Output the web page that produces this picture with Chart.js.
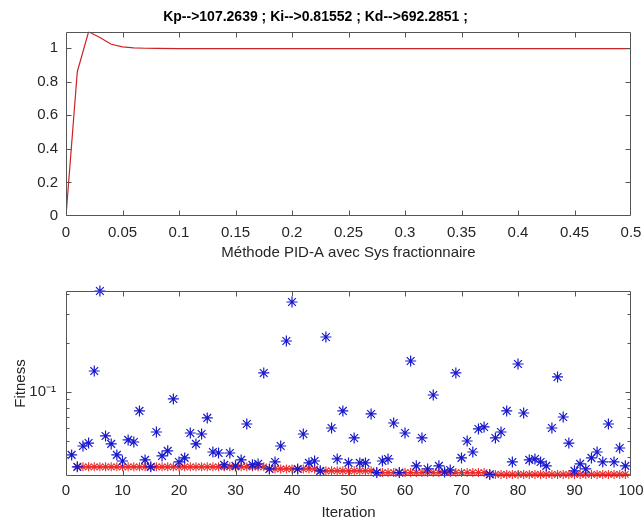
<!DOCTYPE html>
<html><head><meta charset="utf-8">
<script src="https://cdn.jsdelivr.net/npm/chart.js@4.4.0/dist/chart.umd.min.js"></script>
<style>
html,body{margin:0;padding:0;background:#fff;}
#wrap{position:relative;width:643px;height:521px;overflow:hidden;background:#fff;}
canvas{position:absolute;left:0;}
#c1{top:0;} #c2{top:265px;}
</style></head><body>
<div id="wrap"><canvas id="c1" width="643" height="265"></canvas><canvas id="c2" width="643" height="256"></canvas></div>
<script>
// ---------- data: top plot (step response) ----------
const plotTitle = 'Kp-->107.2639 ; Ki-->0.81552 ; Kd-->692.2851 ;';
const topXLabel = 'Méthode PID-A avec Sys fractionnaire';
const stepTime = [0, 0.01, 0.02, 0.03, 0.04, 0.05, 0.06, 0.07, 0.08, 0.1, 0.15, 0.2, 0.25, 0.3, 0.35, 0.4, 0.45, 0.5];
const stepResponse = [0, 0.86, 1.098, 1.064, 1.024, 1.008, 1.002, 1.0, 0.999, 0.998, 0.998, 0.998, 0.998, 0.998, 0.998, 0.998, 0.998, 0.998];
const topXTicks = [0, 0.05, 0.1, 0.15, 0.2, 0.25, 0.3, 0.35, 0.4, 0.45, 0.5];
const topXTickLabels = ['0', '0.05', '0.1', '0.15', '0.2', '0.25', '0.3', '0.35', '0.4', '0.45', '0.5'];
const topYTicks = [0, 0.2, 0.4, 0.6, 0.8, 1];
const topYTickLabels = ['0', '0.2', '0.4', '0.6', '0.8', '1'];

// ---------- data: bottom plot (fitness per iteration) ----------
const bottomXLabel = 'Iteration';
const bottomYLabel = 'Fitness';
const iterations = [1,2,3,4,5,6,7,8,9,10,11,12,13,14,15,16,17,18,19,20,21,22,23,24,25,26,27,28,29,30,31,32,33,34,35,36,37,38,39,40,41,42,43,44,45,46,47,48,49,50,51,52,53,54,55,56,57,58,59,60,61,62,63,64,65,66,67,68,69,70,71,72,73,74,75,76,77,78,79,80,81,82,83,84,85,86,87,88,89,90,91,92,93,94,95,96,97,98,99];
const fitnessCurrent = [
  0.0411, 0.0347, 0.0466, 0.0486, 0.1345, 0.4165, 0.0537, 0.0480, 0.0411, 0.0377,
  0.0508, 0.0493, 0.0765, 0.0383, 0.0347, 0.0568, 0.0405, 0.0435, 0.0906, 0.0372,
  0.0394, 0.0560, 0.0480, 0.0552, 0.0693, 0.0428, 0.0422, 0.0357, 0.0422, 0.0352,
  0.0383, 0.0636, 0.0357, 0.0362, 0.1308, 0.0337, 0.0372, 0.0466, 0.2055, 0.3565,
  0.0337, 0.0552, 0.0367, 0.0377, 0.0328, 0.2175, 0.0601, 0.0388, 0.0765, 0.0367,
  0.0522, 0.0367, 0.0367, 0.0733, 0.0320, 0.0377, 0.0388, 0.0645, 0.0320, 0.0560,
  0.1549, 0.0352, 0.0522, 0.0337, 0.0958, 0.0352, 0.0323, 0.0332, 0.1308, 0.0394,
  0.0500, 0.0428, 0.0593, 0.0610, 0.0312, 0.0522, 0.0568, 0.0765, 0.0372, 0.1485,
  0.0743, 0.0383, 0.0388, 0.0372, 0.0352, 0.0601, 0.1236, 0.0702, 0.0486, 0.0328,
  0.0362, 0.0337, 0.0394, 0.0428, 0.0372, 0.0636, 0.0372, 0.0453, 0.0352];
const bestIterations = [2,3,4,5,6,7,8,9,10,11,12,13,14,15,16,17,18,19,20,21,22,23,24,25,26,27,28,29,30,31,32,33,34,35,36,37,38,39,40,41,42,43,44,45,46,47,48,49,50,51,52,53,54,55,56,57,58,59,60,61,62,63,64,65,66,67,68,69,70,71,72,73,74,75,76,77,78,79,80,81,82,83,84,85,86,87,88,89,90,91,92,93,94,95,96,97,98,99];
const fitnessBest = [
  0.0347, 0.0347, 0.0347, 0.0347, 0.0347, 0.0347, 0.0347, 0.0347, 0.0347, 0.0347,
  0.0347, 0.0347, 0.0347, 0.0347, 0.0347, 0.0347, 0.0347, 0.0347, 0.0347, 0.0347,
  0.0347, 0.0347, 0.0347, 0.0347, 0.0347, 0.0347, 0.0347, 0.0347, 0.0347, 0.0347,
  0.0347, 0.0347, 0.0347, 0.0347,
  0.0337, 0.0337, 0.0337, 0.0337, 0.0337, 0.0337, 0.0337, 0.0337, 0.0337,
  0.0328, 0.0328, 0.0328, 0.0328, 0.0328, 0.0328, 0.0328, 0.0328, 0.0328, 0.0328,
  0.0320, 0.0320, 0.0320, 0.0320, 0.0320, 0.0320, 0.0320, 0.0320, 0.0320, 0.0320,
  0.0320, 0.0320, 0.0320, 0.0320, 0.0320, 0.0320, 0.0320, 0.0320, 0.0320, 0.0320,
  0.0312, 0.0312, 0.0312, 0.0312, 0.0312, 0.0312, 0.0312, 0.0312, 0.0312, 0.0312,
  0.0312, 0.0312, 0.0312, 0.0312, 0.0312, 0.0312, 0.0312, 0.0312, 0.0312, 0.0312,
  0.0312, 0.0312, 0.0312, 0.0312, 0.0312];
const bottomXTicks = [0, 10, 20, 30, 40, 50, 60, 70, 80, 90, 100];
const bottomXTickLabels = ['0', '10', '20', '30', '40', '50', '60', '70', '80', '90', '100'];
const bottomYTicks = [0.1];
const bottomYTickLabels = ['10\u207B\u00B9'];
const bottomYMinorTicks = [0.04, 0.05, 0.06, 0.07, 0.08, 0.09, 0.2, 0.3, 0.4];
const bottomYRange = [0.0305, 0.4165];

// ---------- drawing ----------
const FONT = "'Liberation Sans', Arial, Helvetica, sans-serif";
const TXT = '#262626';

const matlabAxes = {
  id: 'matlabAxes',
  afterDraw(chart, args, opts) {
    const {ctx, chartArea: a, scales} = chart;
    const sx = scales.x, sy = scales.y;
    const L = Math.round(a.left) + 0.5, R = Math.round(a.right) - 0.5;
    const T = Math.round(a.top) + 0.5, B = Math.round(a.bottom) - 0.5;
    ctx.save();
    ctx.strokeStyle = '#555555';
    ctx.lineWidth = 1;
    ctx.beginPath();
    ctx.rect(L, T, R - L, B - T);
    const xt = (vals, len) => vals.forEach(v => {
      const p = Math.round(sx.getPixelForValue(v)) + 0.5;
      ctx.moveTo(p, B); ctx.lineTo(p, B - len);
      ctx.moveTo(p, T); ctx.lineTo(p, T + len);
    });
    const yt = (vals, len) => vals.forEach(v => {
      const p = Math.round(sy.getPixelForValue(v)) + 0.5;
      ctx.moveTo(L, p); ctx.lineTo(L + len, p);
      ctx.moveTo(R, p); ctx.lineTo(R - len, p);
    });
    xt(opts.xTicks || [], 5);
    yt(opts.yTicks || [], 5);
    yt(opts.yMinor || [], 3);
    ctx.stroke();
    ctx.restore();
  }
};

const noSidePadding = s => { s.paddingLeft = 0; s.paddingRight = 0; };

Chart.defaults.font.family = FONT;
Chart.defaults.color = TXT;

new Chart(document.getElementById('c1'), {
  type: 'line',
  data: {
    datasets: [{
      data: stepTime.map((t, i) => ({x: t, y: stepResponse[i]})),
      borderColor: 'rgb(205,35,35)',
      borderWidth: 1.2,
      pointRadius: 0,
      tension: 0,
      fill: false
    }]
  },
  options: {
    responsive: false,
    animation: false,
    devicePixelRatio: 1,
    layout: {padding: {left: 0, right: 12, top: 0, bottom: 0}},
    plugins: {
      legend: {display: false},
      tooltip: {enabled: false},
      title: {
        display: true,
        text: plotTitle,
        font: {family: FONT, size: 14, weight: 'bold'},
        color: '#000',
        padding: {top: 9, bottom: 6}
      },
      matlabAxes: {xTicks: topXTicks.slice(1, -1), yTicks: topYTicks.slice(1)}
    },
    scales: {
      x: {
        type: 'linear', min: 0, max: 0.5,
        grid: {display: false, drawTicks: false}, border: {display: false},
        afterBuildTicks: s => { s.ticks = topXTicks.map(v => ({value: v})); },
        afterFit: noSidePadding,
        ticks: {autoSkip: false, maxRotation: 0, padding: 8, font: {size: 15},
                callback: (v, i) => topXTickLabels[i]},
        title: {display: true, text: topXLabel, font: {size: 15}, color: TXT, padding: {top: -6, bottom: 3}}
      },
      y: {
        type: 'linear', min: 0, max: 1.098,
        grid: {display: false, drawTicks: false}, border: {display: false},
        afterBuildTicks: s => { s.ticks = topYTicks.map(v => ({value: v})); },
        afterFit: s => { s.width = 66; },
        ticks: {autoSkip: false, padding: 8, font: {size: 15},
                callback: (v, i) => topYTickLabels[i]}
      }
    }
  },
  plugins: [matlabAxes]
});

new Chart(document.getElementById('c2'), {
  type: 'line',
  data: {
    datasets: [{
      data: iterations.map((it, i) => ({x: it, y: fitnessCurrent[i]})),
      showLine: false,
      pointStyle: 'star',
      pointRadius: 5.5,
      pointBorderWidth: 1.2,
      pointBorderColor: 'rgb(25,25,205)',
      pointBackgroundColor: 'rgb(25,25,205)',
      borderColor: 'rgb(25,25,205)',
      clip: false
    }, {
      data: bestIterations.map((it, i) => ({x: it, y: fitnessBest[i]})),
      showLine: true,
      borderColor: 'rgb(235,45,45)',
      borderWidth: 1.2,
      pointStyle: 'star',
      pointRadius: 4.5,
      pointBorderWidth: 1.1,
      pointBorderColor: 'rgb(235,45,45)',
      pointBackgroundColor: 'rgb(235,45,45)',
      tension: 0,
      clip: false
    }]
  },
  options: {
    responsive: false,
    animation: false,
    devicePixelRatio: 1,
    layout: {padding: {left: 0, right: 12, top: 26, bottom: 0}},
    plugins: {
      legend: {display: false},
      tooltip: {enabled: false},
      matlabAxes: {xTicks: bottomXTicks.slice(1, -1), yTicks: bottomYTicks, yMinor: bottomYMinorTicks}
    },
    scales: {
      x: {
        type: 'linear', min: 0, max: 100,
        grid: {display: false, drawTicks: false}, border: {display: false},
        afterBuildTicks: s => { s.ticks = bottomXTicks.map(v => ({value: v})); },
        afterFit: noSidePadding,
        ticks: {autoSkip: false, maxRotation: 0, padding: 6, font: {size: 15},
                callback: (v, i) => bottomXTickLabels[i]},
        title: {display: true, text: bottomXLabel, font: {size: 15}, color: TXT, padding: {top: -2, bottom: -1}}
      },
      y: {
        type: 'logarithmic', min: bottomYRange[0], max: bottomYRange[1],
        grid: {display: false, drawTicks: false}, border: {display: false},
        afterBuildTicks: s => { s.ticks = bottomYTicks.map(v => ({value: v})); },
        afterFit: s => { s.width = 66; },
        ticks: {autoSkip: false, padding: 10, font: {size: 15},
                callback: (v, i) => bottomYTickLabels[i]},
        title: {display: true, text: bottomYLabel, font: {size: 15}, color: TXT, padding: {top: 12, bottom: 0}}
      }
    }
  },
  plugins: [matlabAxes]
});
</script>
</body></html>
